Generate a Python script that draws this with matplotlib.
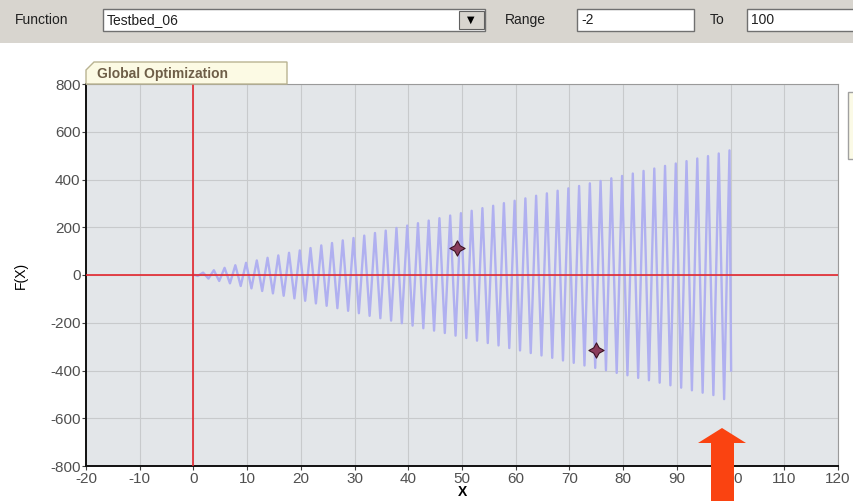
import matplotlib.pyplot as plt
from matplotlib.patches import Rectangle, Polygon

plt.rcParams['font.family'] = ['Liberation Sans', 'DejaVu Sans']
plt.rcParams['axes.unicode_minus'] = False

# peaks of the curve
top_x = [1.8, 3.8, 5.8, 7.8, 9.8, 11.8, 13.8, 15.8, 17.8, 19.8,
         21.8, 23.8, 25.8, 27.8, 29.8, 31.8, 33.8, 35.8, 37.8, 39.8,
         41.8, 43.8, 45.8, 47.8, 49.8, 51.8, 53.8, 55.8, 57.8, 59.8,
         61.8, 63.8, 65.8, 67.8, 69.8, 71.8, 73.8, 75.8, 77.8, 79.8,
         81.8, 83.8, 85.8, 87.8, 89.8, 91.8, 93.8, 95.8, 97.8, 99.8]
top_y = [10, 20, 30, 41, 51, 61, 72, 82, 93, 103,
         113, 124, 134, 145, 155, 165, 176, 186, 197, 207,
         217, 228, 238, 249, 259, 269, 280, 290, 301, 311,
         321, 332, 342, 353, 363, 373, 384, 394, 405, 415,
         425, 436, 446, 457, 467, 477, 488, 498, 509, 522]
bot_x = [0.8, 2.8, 4.8, 6.8, 8.8, 10.8, 12.8, 14.8, 16.8, 18.8,
         20.8, 22.8, 24.8, 26.8, 28.8, 30.8, 32.8, 34.8, 36.8, 38.8,
         40.8, 42.8, 44.8, 46.8, 48.8, 50.8, 52.8, 54.8, 56.8, 58.8,
         60.8, 62.8, 64.8, 66.8, 68.8, 70.8, 72.8, 74.8, 76.8, 78.8,
         80.8, 82.8, 84.8, 86.8, 88.8, 90.8, 92.8, 94.8, 96.8, 98.8]
bot_y = [-4, -15, -25, -35, -46, -56, -67, -77, -87, -98,
         -108, -119, -129, -139, -150, -160, -171, -181, -191, -202,
         -212, -223, -233, -243, -254, -264, -275, -285, -295, -306,
         -316, -327, -337, -347, -358, -368, -379, -389, -399, -410,
         -420, -431, -441, -451, -462, -472, -483, -493, -503, -520]
start_pt = (0.3, 0)
end_pt = (100.1, -400)

# the two optima found
opt_x = [49, 75]
opt_y = [115, -315]

xticks = list(range(-20, 121, 10))
yticks = list(range(-800, 801, 200))

fig = plt.figure(figsize=(8.54, 5.01), dpi=100)
fig.patch.set_facecolor('white')

# toolbar strip on top
fig.patches.append(Rectangle((0, 1 - 43/501), 1, 43/501, transform=fig.transFigure,
                             facecolor='#d8d5cf', edgecolor='none'))
def box(x0, x1, y0=9, y1=31):
    fig.patches.append(Rectangle((x0/854, 1 - y1/501), (x1 - x0)/854, (y1 - y0)/501,
                                 transform=fig.transFigure, facecolor='white',
                                 edgecolor='#707070', lw=1))
box(103, 485)
box(577, 694)
box(747, 856)
fig.patches.append(Rectangle((459/854, 1 - 29/501), 25/854, 18/501, transform=fig.transFigure,
                             facecolor='#d8d5cf', edgecolor='#606060', lw=0.8))
fig.text(471/854, 1 - 20/501, '▼', fontsize=7, ha='center', va='center', family=['DejaVu Sans'])
fig.text(15/854, 1 - 20/501, 'Function', fontsize=10, va='center', color='#202020')
fig.text(107/854, 1 - 20/501, 'Testbed_06', fontsize=10, va='center', color='#202020')
fig.text(505/854, 1 - 20/501, 'Range', fontsize=10, va='center', color='#202020')
fig.text(581/854, 1 - 20/501, '-2', fontsize=10, va='center', color='#202020')
fig.text(710/854, 1 - 20/501, 'To', fontsize=10, va='center', color='#202020')
fig.text(751/854, 1 - 20/501, '100', fontsize=10, va='center', color='#202020')

# tab above the plot
tab = [(86, 84), (86, 70), (94, 62), (287, 62), (287, 84)]
fig.patches.append(Polygon([(a/854, 1 - b/501) for a, b in tab], closed=True,
                           transform=fig.transFigure, facecolor='#fcfae4',
                           edgecolor='#b9b391', lw=1))
fig.text(97/854, 1 - 74/501, 'Global Optimization', fontsize=10, fontweight='bold',
         va='center', color='#6e5e48')

# side panel edge on the right
fig.patches.append(Rectangle((848/854, 1 - 159/501), 10/854, 67/501, transform=fig.transFigure,
                             facecolor='#fbfae6', edgecolor='#a0a0a0', lw=1))

ax = fig.add_axes([86/854, 1 - 466/501, (838 - 86)/854, (466 - 84)/501])
ax.set_facecolor('#e3e6e9')
ax.set_xlim(-20, 120)
ax.set_ylim(-800, 800)
ax.set_xticks(xticks)
ax.set_yticks(yticks)
ax.grid(True, color='#c8cacc', lw=0.8)
ax.set_axisbelow(True)

# build zigzag from the peak lists
xs = [start_pt[0]]
ys = [start_pt[1]]
for i in range(len(top_x)):
    xs += [bot_x[i], top_x[i]]
    ys += [bot_y[i], top_y[i]]
xs.append(end_pt[0])
ys.append(end_pt[1])
ax.plot(xs, ys, color='#b0b0f0', lw=1.7, zorder=3)

ax.axhline(0, color='#e3262e', lw=1.2, zorder=4)
ax.axvline(0, color='#e3262e', lw=1.2, zorder=4)

ax.scatter(opt_x, opt_y, marker=(4, 1, 0), s=120, color='#8a3d5c',
           edgecolors='#3c1224', linewidths=0.8, zorder=5)

for s in ['left', 'bottom']:
    ax.spines[s].set_color('#101010')
    ax.spines[s].set_linewidth(1.4)
for s in ['right', 'top']:
    ax.spines[s].set_color('#9a9a9a')
ax.tick_params(colors='#404040', labelsize=11, length=3, width=0.8, pad=1)
ax.tick_params(axis='x', labelcolor='#505050')
ax.tick_params(axis='y', labelcolor='#505050')
fig.text(462/854, 1 - 492/501, 'X', fontsize=10, fontweight='bold', ha='center', va='center')
ax.set_ylabel('F(X)', fontsize=10, labelpad=16)

# orange arrow at bottom
arrow = [(722, 428), (746, 443), (734, 443), (734, 502), (711, 502), (711, 443), (698, 443)]
fig.patches.append(Polygon([(a/854, 1 - b/501) for a, b in arrow], closed=True,
                           transform=fig.transFigure, facecolor='#fa4311',
                           edgecolor='none', zorder=10))

plt.savefig('out.png', dpi=100)
